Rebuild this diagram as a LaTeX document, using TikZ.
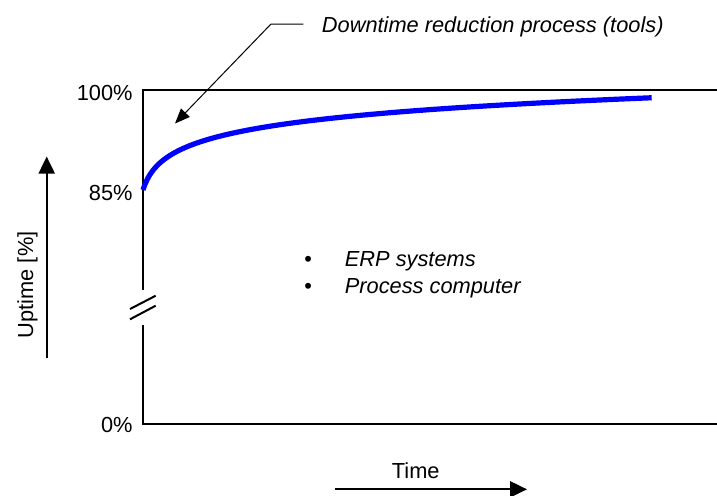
\documentclass[tikz,border=0pt]{standalone}
\usepackage{fontspec}
\setmainfont{Liberation Sans}
\usetikzlibrary{arrows.meta}
\begin{document}
\begin{tikzpicture}[x=0.5pt,y=-0.5pt,
  lbl/.style={inner sep=0pt,font=\fontsize{10.9}{13}\selectfont},
  ilbl/.style={lbl,font=\fontsize{10.9}{13}\selectfont\itshape},
  axisline/.style={line width=1pt,line join=miter,line cap=butt},
  bigarrow/.style={line width=1pt,-{Triangle[length=8.5pt,width=8pt]}},
  leader/.style={line width=0.5pt,-{Triangle[length=7.5pt,width=6pt]}},
  curve/.style={line width=2.6pt,color={rgb,255:red,0;green,0;blue,255}}]
\useasboundingbox (0,0) rectangle (717,495);
% coordinates
\coordinate (tr) at (717,90);
\coordinate (tl) at (143,90);
\coordinate (bt) at (143,290);
\coordinate (bb) at (143,325);
\coordinate (bl) at (143,424);
\coordinate (br) at (717,424);
% frame
\draw[axisline] (tr) -- (tl) -- (bt);
\draw[axisline] (bb) -- (bl) -- (br);
% break marks
\coordinate (s1a) at (130,309); \coordinate (s1b) at (155.7,295.7);
\coordinate (s2a) at (130,319.3); \coordinate (s2b) at (155.7,305.7);
\draw[line width=1pt] (s1a) -- (s1b);
\draw[line width=1pt] (s2a) -- (s2b);
% tick labels
\node[lbl,anchor=base east] (p100) at (133,100) {100\%};
\node[lbl,anchor=base east] (p85) at (133,200) {85\%};
\node[lbl,anchor=base east] (p0) at (133,432.5) {0\%};
% curve
\draw[curve] plot[domain=0:1,samples=120] ({143+510*\x*\x},{190-21.1*ln(1+510*\x*\x/6.5)});
% annotation
\node[ilbl,anchor=base west] (ann) at (321.5,32) {Downtime reduction process (tools)};
\coordinate (l1) at (303.3,24);
\coordinate (l2) at (271,24);
\coordinate (ltip) at (175,123.5);
\draw[leader] (l1) -- (l2) -- (ltip);
% bullets
\node[lbl,anchor=base] (b1) at (308.3,266) {•};
\node[lbl,anchor=base] (b2) at (308.3,293) {•};
\node[ilbl,anchor=base west] (t1) at (344.5,266) {ERP systems};
\node[ilbl,anchor=base west] (t2) at (344.5,293) {Process computer};
% uptime axis label
\node[lbl,rotate=90,anchor=base west] (up) at (33,338.5) {Uptime [\%]};
\coordinate (ua) at (46.7,358);
\coordinate (ub) at (46.7,156.5);
\draw[bigarrow] (ua) -- (ub);
% time label
\node[lbl,anchor=base west] (time) at (391.5,478.3) {Time};
\coordinate (ta) at (335,489.3);
\coordinate (tb) at (527,489.3);
\draw[bigarrow] (ta) -- (tb);
\end{tikzpicture}
\end{document}
